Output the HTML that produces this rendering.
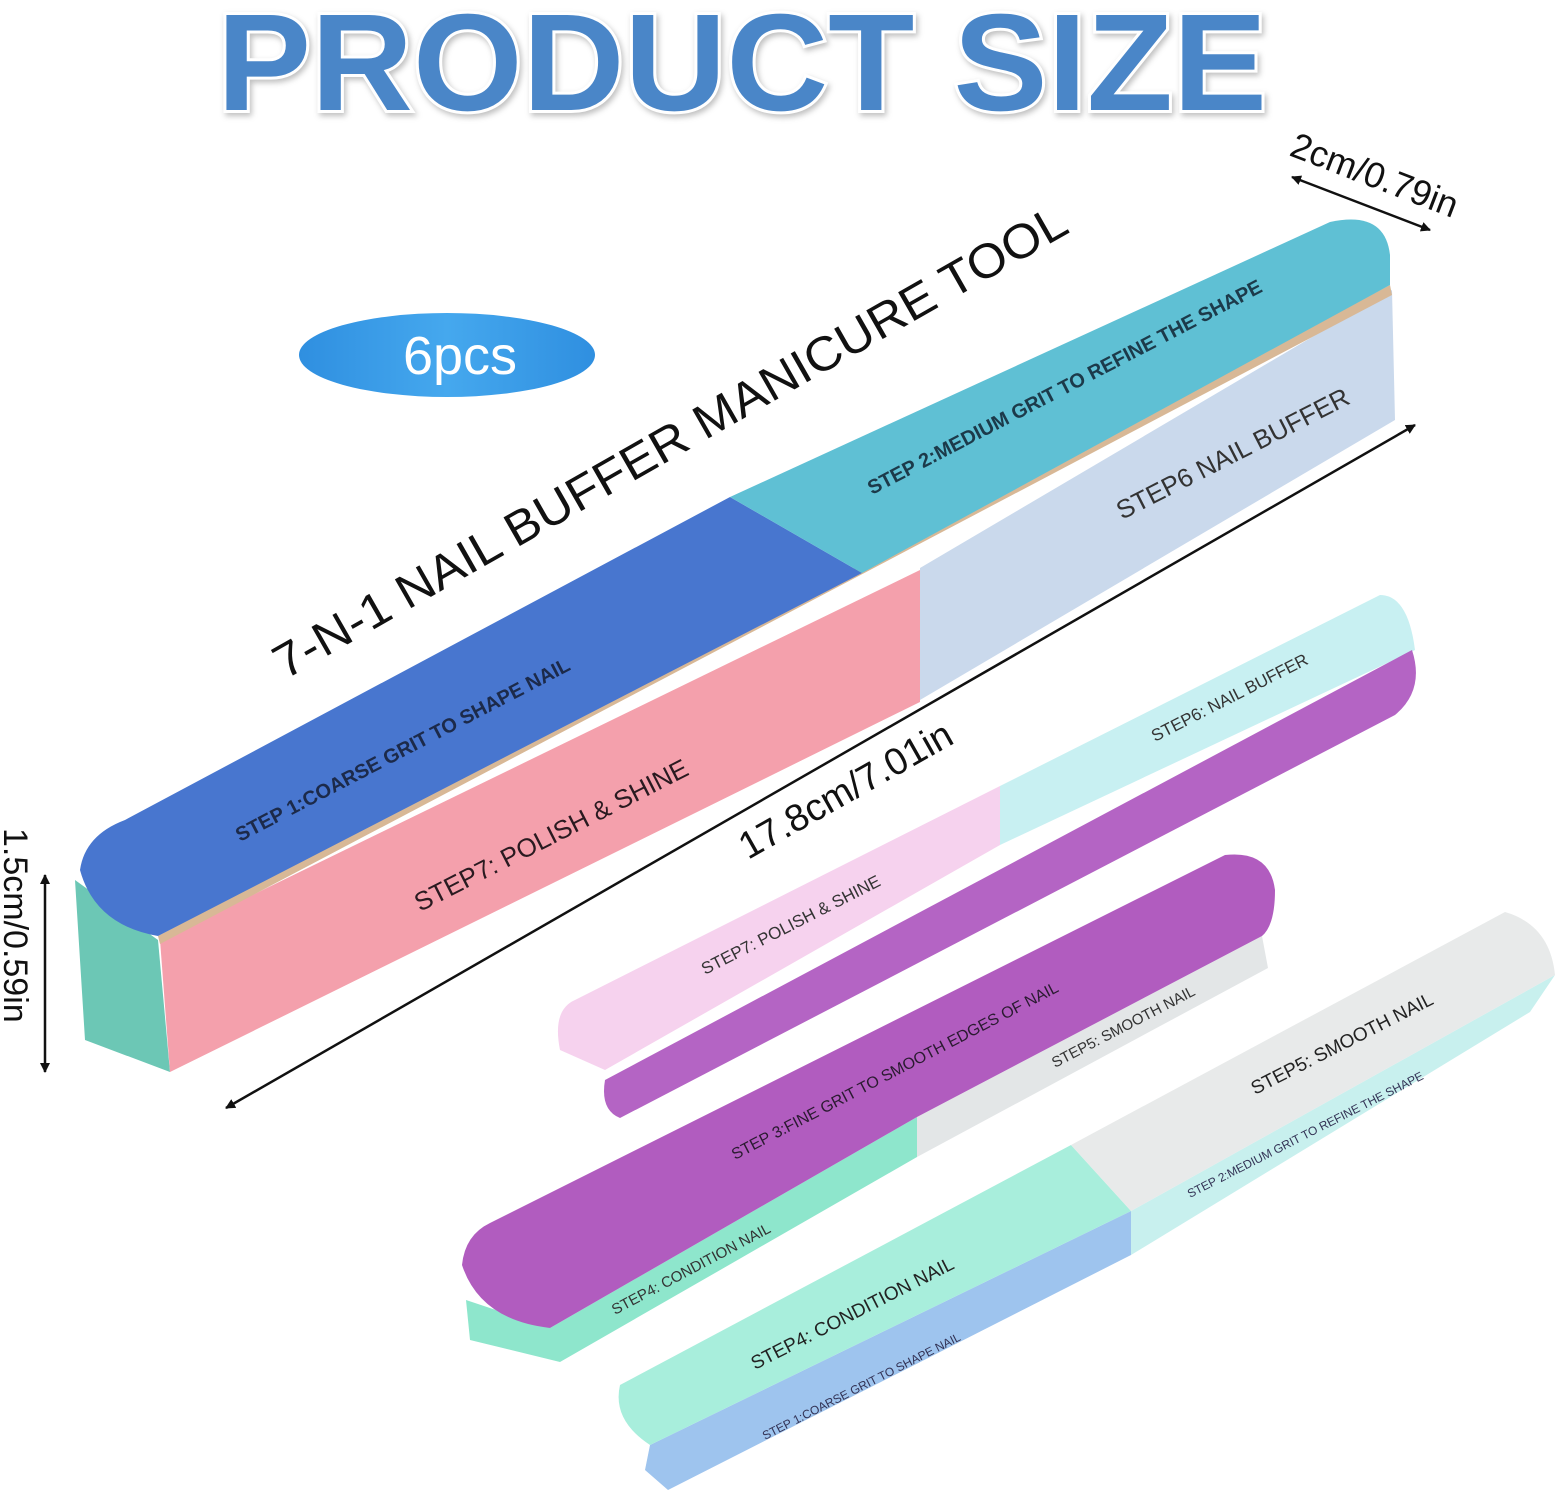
<!DOCTYPE html>
<html><head><meta charset="utf-8"><style>
html,body{margin:0;padding:0;background:#fff}
svg{display:block}
text{font-family:"Liberation Sans",sans-serif}
</style></head><body>
<svg width="1559" height="1500" viewBox="0 0 1559 1500" xmlns="http://www.w3.org/2000/svg">
<defs>
<marker id="ah" markerWidth="10" markerHeight="10" refX="9" refY="5" orient="auto" markerUnits="userSpaceOnUse"><path d="M0,0 L10,5 L0,10 Z" fill="#111"/></marker>
<marker id="at" markerWidth="10" markerHeight="10" refX="1" refY="5" orient="auto" markerUnits="userSpaceOnUse"><path d="M10,0 L0,5 L10,10 Z" fill="#111"/></marker>
<linearGradient id="ell" x1="0" y1="0" x2="1" y2="0"><stop offset="0" stop-color="#2f8fe0"/><stop offset="0.5" stop-color="#45a8ee"/><stop offset="1" stop-color="#2f8fe0"/></linearGradient>
</defs>

<!-- Title -->
<text x="742" y="110" text-anchor="middle" font-size="138" font-weight="bold" fill="#4a86c8" stroke="#fff" stroke-width="6" paint-order="stroke" textLength="1050" lengthAdjust="spacingAndGlyphs" style="filter:drop-shadow(2px 3px 3px rgba(0,0,0,0.25))">PRODUCT SIZE</text>

<!-- 6pcs -->
<ellipse cx="447" cy="355" rx="148" ry="42" fill="url(#ell)"/>
<text x="460" y="374" text-anchor="middle" font-size="54" fill="#fff">6pcs</text>

<!-- Big buffer -->
<polygon points="75,880 158,940 170,1072 85,1040" fill="#6cc7b5"/>
<polygon points="160,940 920,570 920,702 170,1072" fill="#f4a0ac"/>
<polygon points="920,568 1392,290 1395,420 920,700" fill="#cad9ec"/>
<polygon points="158,936 1390,285 1392,295 160,944" fill="#d8b896"/>
<path d="M80,870 Q85,835 125,820 L730,497 L862,573 L158,936 Q95,925 80,870 Z" fill="#4876cf"/>
<path d="M730,497 L1330,222 Q1385,210 1390,255 L1390,285 L862,573 Z" fill="#5fc0d4"/>
<text transform="translate(240,842) rotate(-27.5)" font-size="20" font-weight="bold" fill="#1c2a4a">STEP 1:COARSE GRIT TO SHAPE NAIL</text>
<text transform="translate(872,495) rotate(-27.5)" font-size="20" font-weight="bold" fill="#1c3a4a">STEP 2:MEDIUM GRIT TO REFINE THE SHAPE</text>
<text transform="translate(420,912) rotate(-27)" font-size="26" fill="#2a1a20">STEP7: POLISH &amp; SHINE</text>
<text transform="translate(1122,520) rotate(-27)" font-size="26" fill="#333">STEP6 NAIL BUFFER</text>

<!-- 7-N-1 label -->
<text transform="translate(285,680) rotate(-29.7)" font-size="48" fill="#111" textLength="905" lengthAdjust="spacingAndGlyphs">7-N-1 NAIL BUFFER MANICURE TOOL</text>

<!-- 2cm arrow -->
<line x1="1292" y1="177" x2="1430" y2="230" stroke="#111" stroke-width="2.5" marker-start="url(#at)" marker-end="url(#ah)"/>
<text transform="translate(1288,155) rotate(21)" font-size="36" fill="#111">2cm/0.79in</text>

<!-- 17.8cm arrow -->
<line x1="226" y1="1108" x2="1415" y2="425" stroke="#111" stroke-width="2.5" marker-start="url(#at)" marker-end="url(#ah)"/>
<text transform="translate(748,860) rotate(-29.5)" font-size="38" fill="#111">17.8cm/7.01in</text>

<!-- 1.5cm arrow -->
<line x1="45" y1="875" x2="45" y2="1072" stroke="#111" stroke-width="2.5" marker-start="url(#at)" marker-end="url(#ah)"/>
<text transform="translate(4,828) rotate(90)" font-size="34" fill="#111">1.5cm/0.59in</text>

<!-- Buffer 1 -->
<path d="M560,1050 Q552,1010 575,1000 L1000,786 L1000,845 L605,1070 Z" fill="#f6d2ee"/>
<path d="M1000,786 L1380,595 Q1408,595 1415,650 L1000,845 Z" fill="#c8f0f2"/>
<path d="M605,1080 L1412,650 Q1425,690 1395,715 L620,1118 Q600,1110 605,1080 Z" fill="#b464c4"/>
<text transform="translate(705,975) rotate(-27)" font-size="17" fill="#333">STEP7: POLISH &amp; SHINE</text>
<text transform="translate(1155,742) rotate(-27)" font-size="17" fill="#333">STEP6: NAIL BUFFER</text>

<!-- Buffer 2 -->
<polygon points="466,1300 550,1328 917,1117 917,1157 560,1362 470,1340" fill="#8ee6cc"/>
<polygon points="917,1117 1262,936 1268,968 917,1157" fill="#e3e6e7"/>
<path d="M462,1265 Q465,1235 490,1223 L1225,855 Q1270,850 1275,890 Q1275,925 1262,936 L917,1117 L550,1328 Q480,1320 462,1265 Z" fill="#b15cbf"/>
<text transform="translate(735,1160) rotate(-27.5)" font-size="16" fill="#2a1a30">STEP 3:FINE GRIT TO SMOOTH EDGES OF NAIL</text>
<text transform="translate(1055,1068) rotate(-27.5)" font-size="15" fill="#333">STEP5: SMOOTH NAIL</text>
<text transform="translate(615,1315) rotate(-28)" font-size="15" fill="#333">STEP4: CONDITION NAIL</text>

<!-- Buffer 3 -->
<polygon points="650,1445 1131,1211 1131,1255 668,1490 645,1470" fill="#9ec4ee"/>
<polygon points="1131,1211 1555,975 1530,1012 1131,1255" fill="#c8f0ee"/>
<path d="M620,1385 L1071,1145 L1131,1211 L650,1445 Q612,1420 620,1385 Z" fill="#a8eedc"/>
<path d="M1071,1145 L1505,912 Q1550,925 1555,975 L1131,1211 Z" fill="#e8eaea"/>
<text transform="translate(1255,1095) rotate(-27)" font-size="19" fill="#222">STEP5: SMOOTH NAIL</text>
<text transform="translate(755,1370) rotate(-27)" font-size="19" fill="#222">STEP4: CONDITION NAIL</text>
<text transform="translate(1190,1198) rotate(-27)" font-size="12" fill="#335">STEP 2:MEDIUM GRIT TO REFINE THE SHAPE</text>
<text transform="translate(765,1440) rotate(-27)" font-size="12" fill="#335">STEP 1:COARSE GRIT TO SHAPE NAIL</text>
</svg>
</body></html>
